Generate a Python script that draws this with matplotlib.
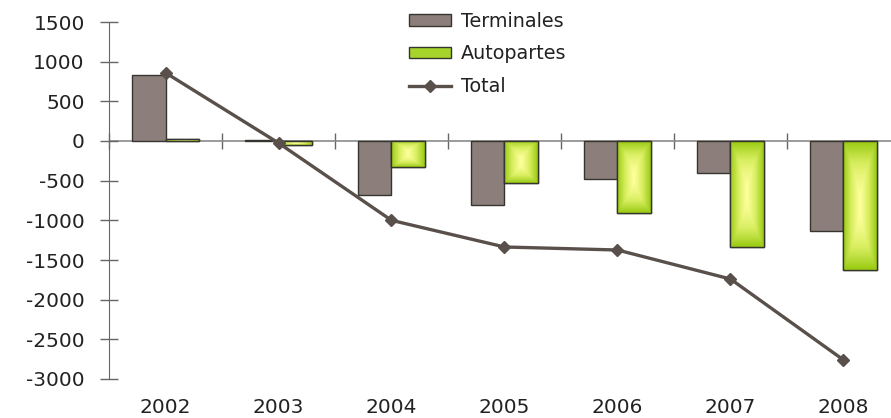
import matplotlib.pyplot as plt
import numpy as np
from matplotlib.colors import LinearSegmentedColormap

years = ['2002', '2003', '2004', '2005', '2006', '2007', '2008']
terminales = [832, 12, -680, -807, -475, -403, -1134]
autopartes = [20, -50, -328, -530, -907, -1332, -1626]
total = [860, -25, -1000, -1336, -1374, -1740, -2760]

plt.rcParams['font.family'] = ['DejaVu Sans']
plt.rcParams['axes.unicode_minus'] = False

fig = plt.figure(figsize=(8.91, 4.18), dpi=100)
ax = fig.add_axes([109 / 891, 39 / 418, 791 / 891, 357 / 418])

x = np.arange(len(years))
w = 0.295
dark = '#36342f'
ax.axhline(0, color='#8a8a8a', linewidth=1.2, zorder=1)

b1 = ax.bar(x - w / 2, terminales, w, color='#8c7f7b', edgecolor=dark, linewidth=1.0,
            label='Terminales', zorder=2)
b2 = ax.bar(x + w / 2, autopartes, w, color='#a6d42a', edgecolor=dark, linewidth=1.0,
            label='Autopartes', zorder=2)

# green -> yellow gradient inside the Autopartes bars
cmap = LinearSegmentedColormap.from_list('g', ['#ffff9c', '#d8ee60', '#9acb14'])
u = np.linspace(-1, 1, 60)
uu, vv = np.meshgrid(u, u)
grad = np.maximum(np.abs(uu), np.abs(vv) ** 1.6)
for p in b2.patches:
    x0, y0 = p.get_x(), p.get_y()
    x1, y1 = x0 + p.get_width(), y0 + p.get_height()
    im = ax.imshow(grad, cmap=cmap, extent=(x0, x1, min(y0, y1), max(y0, y1)),
                   aspect='auto', zorder=2.1, interpolation='bilinear')
    im.set_clip_path(p)
    ax.bar(p.get_x() + p.get_width() / 2, p.get_height(), p.get_width(),
           fill=False, edgecolor=dark, linewidth=1.0, zorder=2.2)

ax.plot(x, total, color='#5a504b', linewidth=2.4, marker='D', markersize=6,
        label='Total', zorder=3)

ax.set_xlim(-0.5, len(years) - 0.5)
ax.set_ylim(-3000, 1500)
ax.set_yticks(np.arange(-3000, 1501, 500))
ax.set_xticks(x)
ax.set_xticklabels(years)
ax.tick_params(axis='x', length=0, labelsize=14.5, pad=14, colors='#222222')
ax.tick_params(axis='y', direction='inout', length=13, width=1, color='#666666',
               labelsize=14.5, pad=11, labelcolor='#222222')

for s in ['top', 'right', 'bottom']:
    ax.spines[s].set_visible(False)
ax.spines['left'].set_color('#666666')

# ticks between categories on the zero line
sec = ax.secondary_xaxis(2 / 3)
sec.set_xticks(np.arange(len(years) + 1) - 0.5)
sec.set_xticklabels([])
sec.tick_params(direction='inout', length=12, width=1, color='#666666')
for s in sec.spines.values():
    s.set_visible(False)

ax.legend(handles=[b1, b2, ax.lines[-1]], loc='upper left',
          bbox_to_anchor=(399 / 891, 1 - 2 / 418),
          bbox_transform=fig.transFigure, frameon=False, fontsize=13.8,
          borderpad=0.0, handlelength=2.2, handleheight=0.55, handletextpad=0.55,
          labelspacing=0.72, labelcolor='#222222')

fig.savefig('out.png', dpi=100)
